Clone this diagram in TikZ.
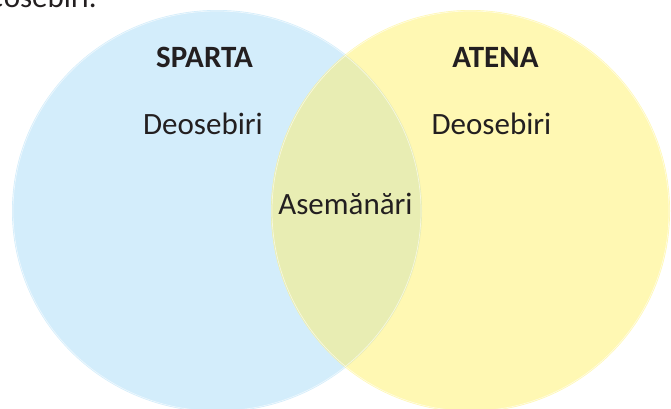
\documentclass[tikz,border=0pt]{standalone}
\usepackage{fontspec}
\setmainfont{Carlito}
\definecolor{spblue}{HTML}{D3EDFB}
\definecolor{atyellow}{HTML}{FFF8B3}
\definecolor{overlapc}{HTML}{E8EDB3}
\definecolor{txt}{HTML}{231F20}
\tikzset{
  label text/.style={inner sep=0pt, anchor=base, text=txt, font=\fontsize{31}{36}\selectfont},
  title text/.style={label text, font=\fontsize{31}{36}\selectfont\bfseries},
  rim/.style={draw=white, line width=0.7pt, opacity=0.6}
}
\begin{document}
\begin{tikzpicture}[x=1pt,y=-1pt]
\useasboundingbox (0,0) rectangle (671,408);
\begin{scope}
  \clip (0,0) rectangle (671,408);
  \fill[spblue] (217,211) ellipse [x radius=205, y radius=201];
  \fill[atyellow] (470.5,211) ellipse [x radius=199.5, y radius=201];
  \begin{scope}
    \clip (217,211) ellipse [x radius=205, y radius=201];
    \fill[overlapc] (470.5,211) ellipse [x radius=199.5, y radius=201];
  \end{scope}
  \draw[rim] (217,211) ellipse [x radius=204, y radius=200];
  \draw[rim] (470.5,211) ellipse [x radius=198.5, y radius=200];
  \node[label text, anchor=base east] (frag) at (97,7.3) {Deosebiri.};
\end{scope}
\node[title text] (sparta) at (204.5,67.3) {SPARTA};
\node[title text] (atena) at (495.5,67.3) {ATENA};
\node[label text] (deosL) at (203,134) {Deosebiri};
\node[label text] (deosR) at (491.5,134) {Deosebiri};
\node[label text] (asem) at (345.5,214) {Asemănări};
\end{tikzpicture}
\end{document}
